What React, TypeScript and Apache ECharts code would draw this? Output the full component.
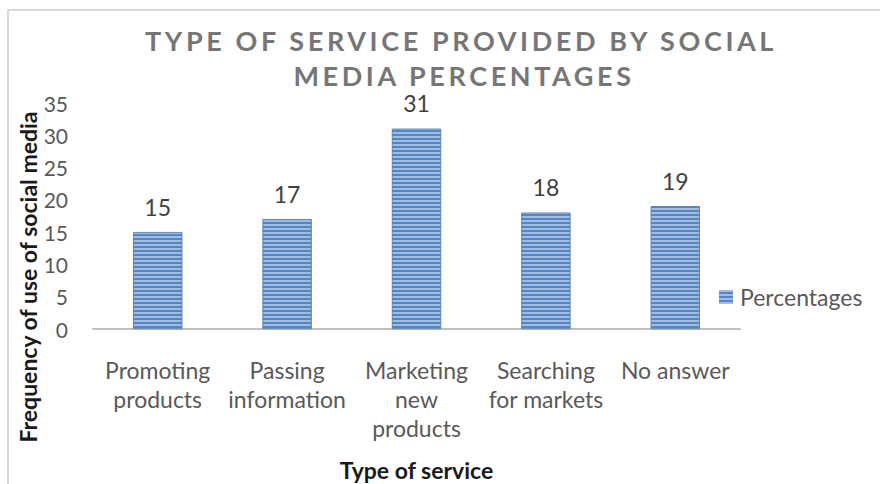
import React, { useEffect, useRef } from "react";
import * as echarts from "echarts";

const titleLines = ["TYPE OF SERVICE PROVIDED BY SOCIAL", "MEDIA PERCENTAGES"];
const categories = [
  "Promoting\nproducts",
  "Passing\ninformation",
  "Marketing\nnew\nproducts",
  "Searching\nfor markets",
  "No answer",
];
const percentages = [15, 17, 31, 18, 19];
const seriesName = "Percentages";
const yAxisTitle = "Frequency of use of social media";
const xAxisTitle = "Type of service";
const yMin = 0;
const yMax = 35;
const yInterval = 5;

const FONT = "Lato, 'Open Sans', sans-serif";

export default function App() {
  const ref = useRef<HTMLDivElement>(null);
  useEffect(() => {
    if (!ref.current) return;
    const chart = echarts.init(ref.current, null, { renderer: "svg" });
    const option: any = {
      animation: false,
      backgroundColor: "#ffffff",
      textStyle: { fontFamily: FONT },
      graphic: [
        {
          type: "rect",
          silent: true,
          z: -10,
          shape: { x: 8, y: 10, width: 900, height: 500 },
          style: { fill: "none", stroke: "#d9d9d9", lineWidth: 2 },
        },
        {
          type: "text",
          silent: true,
          x: 461,
          y: 40,
          style: {
            text: titleLines[0],
            align: "center",
            verticalAlign: "middle",
            fill: "#767676",
            font: `bold 27px ${FONT}`,
          },
        },
        {
          type: "text",
          silent: true,
          x: 464,
          y: 75,
          style: {
            text: titleLines[1],
            align: "center",
            verticalAlign: "middle",
            fill: "#767676",
            font: `bold 27px ${FONT}`,
          },
        },
        {
          type: "text",
          silent: true,
          x: 28,
          y: 277,
          rotation: Math.PI / 2,
          style: {
            text: yAxisTitle,
            align: "center",
            verticalAlign: "middle",
            fill: "#1a1a1a",
            font: `bold 23px ${FONT}`,
          },
        },
      ],
      legend: {
        left: 714,
        top: 280,
        itemWidth: 14,
        itemHeight: 14,
        icon: "rect",
        itemStyle: { borderWidth: 0 },
        textStyle: {
          fontFamily: FONT,
          fontSize: 23,
          color: "#595959",
          lineHeight: 24,
          padding: [0, 0, 0, 2],
        },
        data: [seriesName],
      },
      grid: { left: 93, top: 103, width: 647, height: 226, containLabel: false },
      xAxis: {
        type: "category",
        data: categories,
        name: xAxisTitle,
        nameLocation: "middle",
        nameGap: 129,
        nameTextStyle: {
          fontFamily: FONT,
          fontSize: 23,
          fontWeight: "bold",
          color: "#1a1a1a",
          lineHeight: 24,
        },
        axisLine: { show: true, lineStyle: { color: "#bfbfbf", width: 2 } },
        axisTick: { show: false },
        axisLabel: {
          interval: 0,
          margin: 26,
          fontFamily: FONT,
          fontSize: 23,
          lineHeight: 29,
          color: "#595959",
        },
      },
      yAxis: {
        type: "value",
        min: yMin,
        max: yMax,
        interval: yInterval,
        axisLine: { show: false },
        axisTick: { show: false },
        splitLine: { show: false },
        axisLabel: {
          margin: 25,
          fontFamily: FONT,
          fontSize: 21,
          color: "#595959",
        },
      },
      series: [
        {
          name: seriesName,
          type: "bar",
          data: percentages,
          barWidth: 49,
          itemStyle: {
            color: "#5585c5",
            borderColor: "#4a78b6",
            borderWidth: 0.6,
            decal: {
              symbol: "rect",
              symbolSize: 1,
              dashArrayX: [1, 0],
              dashArrayY: [2, 2],
              rotation: 0,
              color: "rgba(255,255,255,0.45)",
            },
          },
          label: {
            show: true,
            position: "top",
            distance: 14,
            fontFamily: FONT,
            fontSize: 23,
            color: "#404040",
          },
        },
      ],
    };
    chart.setOption(option);

    const patch = () => {
      const root = ref.current;
      if (!root) return;
      root.querySelectorAll("text").forEach((t) => {
        const s = (t.textContent || "").trim();
        if (s === titleLines[0] || s === titleLines[1]) {
          (t as SVGTextElement).style.letterSpacing = "3.6px";
        }
      });
    };
    patch();
    chart.on("rendered", patch);
    chart.on("finished", patch);
    const id = window.setTimeout(patch, 50);
    return () => {
      window.clearTimeout(id);
      chart.dispose();
    };
  }, []);
  return (
    <div
      ref={ref}
      style={{ position: "absolute", left: 0, top: 0, width: 880, height: 484, background: "#fff" }}
    />
  );
}
